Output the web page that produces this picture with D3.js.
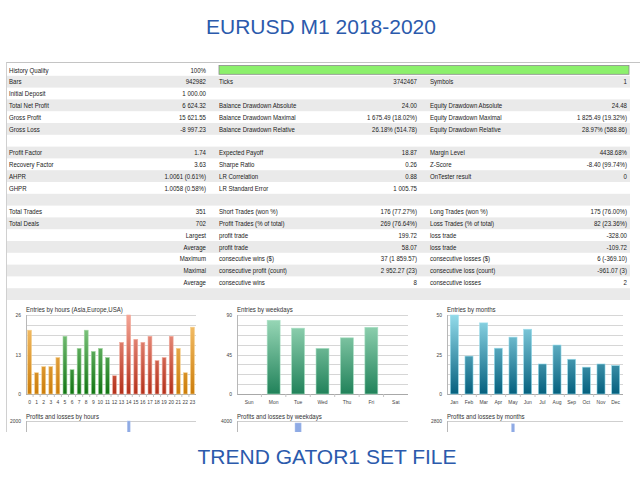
<!DOCTYPE html>
<html><head><meta charset="utf-8">
<script src="https://cdn.jsdelivr.net/npm/d3@7"></script>
<style>
html,body{margin:0;padding:0;background:#fff;}
svg{display:block;}
</style></head><body>
<svg id="c" width="640" height="480"></svg>
<script>
// ---------------- DATA ----------------
const titleTop = "EURUSD M1 2018-2020";
const titleBottom = "TREND GATOR1 SET FILE";

const col1Labels = ["History Quality","Bars","Initial Deposit","Total Net Profit","Gross Profit","Gross Loss","",
  "Profit Factor","Recovery Factor","AHPR","GHPR","",
  "Total Trades","Total Deals","","","","","",""];
const col1Values = ["100%","942982","1 000.00","6 624.32","15 621.55","-8 997.23","",
  "1.74","3.63","1.0061 (0.61%)","1.0058 (0.58%)","",
  "351","702","Largest","Average","Maximum","Maximal","Average",""];
const col2Labels = ["","Ticks","","Balance Drawdown Absolute","Balance Drawdown Maximal","Balance Drawdown Relative","",
  "Expected Payoff","Sharpe Ratio","LR Correlation","LR Standard Error","",
  "Short Trades (won %)","Profit Trades (% of total)","profit trade","profit trade","consecutive wins ($)","consecutive profit (count)","consecutive wins",""];
const col2Values = ["","3742467","","24.00","1 675.49 (18.02%)","26.18% (514.78)","",
  "18.87","0.26","0.88","1 005.75","",
  "176 (77.27%)","269 (76.64%)","199.72","58.07","37 (1 859.57)","2 952.27 (23)","8",""];
const col3Labels = ["","Symbols","","Equity Drawdown Absolute","Equity Drawdown Maximal","Equity Drawdown Relative","",
  "Margin Level","Z-Score","OnTester result","","",
  "Long Trades (won %)","Loss Trades (% of total)","loss trade","loss trade","consecutive losses ($)","consecutive loss (count)","consecutive losses",""];
const col3Values = ["","1","","24.48","1 825.49 (19.32%)","28.97% (588.86)","",
  "4438.68%","-8.40 (99.74%)","0","","",
  "175 (76.00%)","82 (23.36%)","-328.00","-109.72","6 (-369.10)","-961.07 (3)","2",""];
const historyQuality = 100;

const hours = ["0","1","2","3","4","5","6","7","8","9","10","11","12","13","14","15","16","17","18","19","20","21","22","23"];
const hourEntries = [21,7,9,9,12,19,8,15,21,14,15,12,6,17,26,18,17,19,11,12,19,15,7,22];
const hourSession = ["asia","asia","asia","asia","asia","europe","europe","europe","europe","europe","europe","europe",
  "usa","usa","usa","usa","usa","usa","usa","usa","usa","asia","asia","asia"];
const hourTicks = [0,13,26];

const weekdays = ["Sun","Mon","Tue","Wed","Thu","Fri","Sat"];
const weekdayEntries = [0,84,75,52,64,76,0];
const weekdayTicks = [0,45,90];

const months = ["Jan","Feb","Mar","Apr","May","Jun","Jul","Aug","Sep","Oct","Nov","Dec"];
const monthEntries = [50,24,45,29,36,41,19,31,22,17,19,18];
const monthTicks = [0,25,50];

// profit charts (only the visible top part)
const hourProfitCats = ["14"];
const hourProfitValues = [2000];
const hourProfitTop = 2000;
const weekdayProfitCats = ["Tue"];
const weekdayProfitValues = [3900];
const weekdayProfitTop = 4000;
const monthProfitCats = ["May"];
const monthProfitValues = [2700];
const monthProfitTop = 2800;

// ---------------- DRAW ----------------
const svg = d3.select("#c");
const FONT = "'Liberation Sans',Arial,sans-serif";
const SX = 0.8; // horizontal condensing of the small report font
const defs = svg.append("defs");

svg.append("rect").attr("width",640).attr("height",480).attr("fill","#fff");

function place(sel, fx, fy){
  sel.attr("x",0).attr("y",0).attr("transform",(d,i) => `translate(${fx(d,i)},${fy(d,i)}) scale(${SX},1)`);
  return sel;
}

// titles
svg.append("text").attr("x",321).attr("y",34).attr("text-anchor","middle")
  .attr("font-family",FONT).attr("font-size",21)
  .attr("fill","#2b5aac").text(titleTop);
svg.append("text").attr("x",327).attr("y",464).attr("text-anchor","middle")
  .attr("font-family",FONT).attr("font-size",21)
  .attr("fill","#2b5aac").text(titleBottom);

// report table
const rowTop = 64, rowH = 11.8, nRows = col1Labels.length;
const rowIdx = d3.range(nRows);
const yRow = d3.scaleBand().domain(rowIdx).range([rowTop, rowTop + rowH*nRows]);

svg.append("g").selectAll("rect").data(rowIdx.filter(i => i % 2 === 1)).join("rect")
  .attr("x",7).attr("width",623).attr("y",i => yRow(i)).attr("height",yRow.bandwidth())
  .attr("fill","#eaeaea");

svg.append("line").attr("x1",6).attr("x2",640).attr("y1",62.5).attr("y2",62.5).attr("stroke","#c4c4c4");
svg.append("line").attr("x1",6.5).attr("x2",6.5).attr("y1",62.5).attr("y2",432).attr("stroke","#d0d0d0");

const cols = [
  {labels:col1Labels, values:col1Values, lx:9, vx:206},
  {labels:col2Labels, values:col2Values, lx:219, vx:417},
  {labels:col3Labels, values:col3Values, lx:430, vx:627}
];
const tg = svg.append("g").attr("font-family",FONT).attr("font-size",7.6).attr("fill","#1a1a1a");
cols.forEach(c => {
  place(tg.append("g").selectAll("text").data(rowIdx.filter(i => c.labels[i])).join("text")
    .attr("dy","0.35em").text(i => c.labels[i]), () => c.lx, i => yRow(i) + yRow.bandwidth()/2);
  place(tg.append("g").selectAll("text").data(rowIdx.filter(i => c.values[i])).join("text")
    .attr("dy","0.35em").attr("text-anchor","end").text(i => c.values[i]), () => c.vx, i => yRow(i) + yRow.bandwidth()/2);
});

// history quality bar
const xq = d3.scaleLinear().domain([0,100]).range([219,629]);
svg.append("rect").attr("x",xq(0)).attr("y",yRow(0)+1.5).attr("width",xq(historyQuality)-xq(0))
  .attr("height",yRow.bandwidth()-3).attr("fill","#8cf06c").attr("stroke","#8a8a8a").attr("stroke-width",0.8);

// gradients
function grad(id, top, bottom, y1, y2){
  const g = defs.append("linearGradient").attr("id",id).attr("gradientUnits","userSpaceOnUse")
    .attr("x1",0).attr("x2",0).attr("y1",y1).attr("y2",y2);
  g.append("stop").attr("offset","0%").attr("stop-color",top);
  g.append("stop").attr("offset","100%").attr("stop-color",bottom);
}
const pTop = 315, pBot = 394;
grad("g-asia","#f8c675","#cc7d0a",pTop,pBot);
grad("g-europe","#92d392","#127412",pTop,pBot);
grad("g-usa","#f5a596","#b3301a",pTop,pBot);
grad("g-week","#9fdcbc","#21825a",pTop,pBot);
grad("g-month","#93dbea","#05607e",pTop,pBot);
const strokeOf = {"asia":"#f6cf8c","europe":"#9fd69f","usa":"#f2ac9f","week":"#a8e0c4","month":"#9bdeed"};

defs.append("clipPath").attr("id","clipMini").append("rect").attr("x",0).attr("y",0).attr("width",640).attr("height",432);

function entriesChart(opt){
  const g = svg.append("g").attr("font-family",FONT);
  const x = d3.scaleBand().domain(opt.cats).range([opt.x0,opt.x1]).paddingInner(opt.pad).paddingOuter(opt.pad/2);
  const y = d3.scaleLinear().domain([0, opt.ticks[opt.ticks.length-1]]).range([pBot,pTop]);
  const max = y.domain()[1];
  const gridVals = d3.range(0,9).map(k => max*k/8);
  g.append("g").selectAll("line").data(gridVals).join("line")
    .attr("x1",opt.x0).attr("x2",opt.x1).attr("y1",d => Math.round(y(d))+0.5).attr("y2",d => Math.round(y(d))+0.5)
    .attr("stroke",d => d===0 ? "#a8a8a8" : "#d6d6d6");
  g.append("line").attr("x1",opt.x0+0.5).attr("x2",opt.x0+0.5).attr("y1",pTop).attr("y2",pBot+0.5).attr("stroke","#b8b8b8");
  // category ticks
  g.append("g").selectAll("line").data(opt.cats.slice(1)).join("line")
    .attr("x1",d => x(d) - x.step()*x.paddingInner()/2).attr("x2",d => x(d) - x.step()*x.paddingInner()/2)
    .attr("y1",pBot).attr("y2",pBot+3).attr("stroke","#c4c4c4");
  g.append("g").selectAll("rect").data(opt.cats.map((c,i)=>({c, v:opt.values[i], i}))).join("rect")
    .attr("x",d => x(d.c)).attr("width",x.bandwidth())
    .attr("y",d => y(d.v)).attr("height",d => y(0)-y(d.v))
    .attr("fill",d => "url(#g-"+opt.color(d.i)+")").attr("stroke",d => strokeOf[opt.color(d.i)]).attr("stroke-width",0.6);
  place(g.append("g").selectAll("text").data(opt.ticks).join("text")
    .attr("dy","0.35em").attr("text-anchor","end")
    .attr("font-size",6.2).attr("fill","#444").text(d => d), () => opt.x0-5, d => y(d));
  place(g.append("g").selectAll("text").data(opt.cats).join("text")
    .attr("dy","0.35em").attr("text-anchor","middle")
    .attr("font-size",6.2).attr("fill","#444").text(d => d), d => x(d)+x.bandwidth()/2, () => 402);
  place(g.append("text").datum(opt.title).attr("dy","0.35em").attr("font-size",7.6).attr("fill","#333").text(opt.title),
    () => opt.x0, () => 309);

  // profits mini-chart
  const mTop = 421, mBot = mTop + (pBot - pTop);
  const xm = d3.scaleBand().domain(opt.cats).range([opt.x0,opt.x1]).paddingInner(opt.mpad).paddingOuter(opt.mpad/2);
  const ym = d3.scaleLinear().domain([0,opt.mTop]).range([mBot,mTop]);
  const mg = g.append("g").attr("clip-path","url(#clipMini)");
  mg.append("line").attr("x1",opt.x0).attr("x2",opt.x1).attr("y1",mTop+0.5).attr("y2",mTop+0.5).attr("stroke","#cfcfcf");
  mg.append("line").attr("x1",opt.x0+0.5).attr("x2",opt.x0+0.5).attr("y1",mTop).attr("y2",mBot).attr("stroke","#b8b8b8");
  mg.append("g").selectAll("rect").data(opt.mCats.map((c,i)=>({c, v:opt.mValues[i]}))).join("rect")
    .attr("x",d => xm(d.c)).attr("width",xm.bandwidth())
    .attr("y",d => ym(d.v)).attr("height",d => ym(0)-ym(d.v))
    .attr("fill","#8eaae4").attr("stroke","#b3c6ef").attr("stroke-width",0.5);
  place(g.append("text").datum(opt.mTop).attr("dy","0.35em").attr("text-anchor","end")
    .attr("font-size",6.2).attr("fill","#444").text(opt.mTop), () => opt.x0-5, () => ym(opt.mTop));
  place(g.append("text").datum(opt.mTitle).attr("dy","0.35em").attr("font-size",7.6).attr("fill","#333").text(opt.mTitle),
    () => opt.x0, () => 416);
}

entriesChart({cats:hours, values:hourEntries, ticks:hourTicks, x0:26, x1:196, pad:0.45,
  color:i => hourSession[i], title:"Entries by hours (Asia,Europe,USA)",
  mCats:hourProfitCats, mValues:hourProfitValues, mTop:hourProfitTop, mpad:0.6, mTitle:"Profits and losses by hours"});
entriesChart({cats:weekdays, values:weekdayEntries, ticks:weekdayTicks, x0:237, x1:408, pad:0.47,
  color:() => "week", title:"Entries by weekdays",
  mCats:weekdayProfitCats, mValues:weekdayProfitValues, mTop:weekdayProfitTop, mpad:0.75, mTitle:"Profits and losses by weekdays"});
entriesChart({cats:months, values:monthEntries, ticks:monthTicks, x0:447, x1:623, pad:0.45,
  color:() => "month", title:"Entries by months",
  mCats:monthProfitCats, mValues:monthProfitValues, mTop:monthProfitTop, mpad:0.8, mTitle:"Profits and losses by months"});
</script>
</body></html>
